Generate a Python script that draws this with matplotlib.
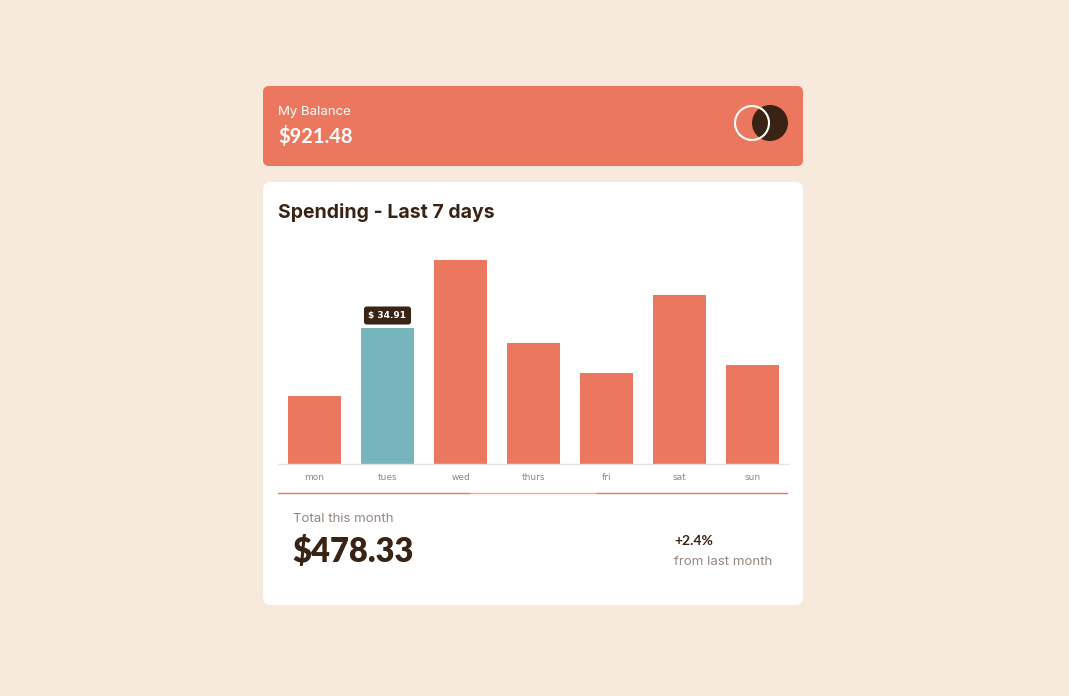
import matplotlib.pyplot as plt
from matplotlib.patches import FancyBboxPatch, Circle

# Data
days = ['mon', 'tues', 'wed', 'thurs', 'fri', 'sat', 'sun']
amounts = [17.45, 34.91, 52.36, 31.07, 23.39, 43.28, 25.48]
active_day = 'tues'
balance = '$921.48'
total_month = '$478.33'
change = '+2.4%'

# Colours
bg = '#F8E9DD'
coral = '#EC775F'
cyan = '#76B5BC'
dark = '#382314'
grey = '#93867F'

plt.rcParams['font.family'] = ['Inter', 'DejaVu Sans']
num_font = ['Lato', 'DejaVu Sans']

W, H = 1069, 696
fig = plt.figure(figsize=(W / 100, H / 100), dpi=100, facecolor=bg)

# Background axes in pixel coordinates
bgax = fig.add_axes([0, 0, 1, 1])
bgax.set_xlim(0, W)
bgax.set_ylim(H, 0)
bgax.axis('off')

# Balance card
bgax.add_patch(FancyBboxPatch((263, 86), 540, 80, boxstyle='round,pad=0,rounding_size=6',
                              fc=coral, ec='none'))
bgax.text(278, 112, 'My Balance', color='white', fontsize=9.5, va='center', ha='left')
bgax.text(278, 137, balance, color='white', fontsize=14.5, fontweight='bold', va='center',
          ha='left', family=num_font)
bgax.add_patch(Circle((770, 123), 18, fc=dark, ec='none'))
bgax.add_patch(Circle((752, 123), 17, fc='none', ec='white', lw=1.5))

# Spending card
bgax.add_patch(FancyBboxPatch((263, 182), 540, 423, boxstyle='round,pad=0,rounding_size=8',
                              fc='white', ec='none'))
bgax.text(278, 212, 'Spending - Last 7 days', color=dark, fontsize=14, fontweight='bold',
          va='center', ha='left')

# Separator under the chart
bgax.plot([278, 470], [492.5, 492.5], color=coral, lw=1)
bgax.plot([470, 597], [492.5, 492.5], color='#F4AE9C', lw=1)
bgax.plot([597, 787], [492.5, 492.5], color=coral, lw=1)

# Footer
bgax.text(293, 519, 'Total this month', color=grey, fontsize=9.5, va='center', ha='left')
bgax.text(292, 552, total_month, color=dark, fontsize=23.5, fontweight='heavy', va='center',
          ha='left', family=num_font)
bgax.text(674, 541, change, color=dark, fontsize=10, fontweight='bold', va='center',
          ha='left', family=num_font)
bgax.text(674, 562, 'from last month', color=grey, fontsize=9.5, va='center', ha='left')

# Bar chart axes: x 278..789 px, y 240..464 px
ax = fig.add_axes([278 / W, 1 - 464 / H, 511 / W, 224 / H])
ax.set_facecolor('none')
colors = [cyan if d == active_day else coral for d in days]
ax.bar(range(len(days)), amounts, width=0.72, color=colors)
ax.set_xlim(-0.5, 6.5)
ax.set_ylim(0, 57.5)
ax.set_yticks([])
ax.set_xticks(range(len(days)))
ax.set_xticklabels(days, color='#8a8a8a', fontsize=6.5, family='DejaVu Sans')
ax.tick_params(axis='x', length=0, pad=6.5)
for s in ['top', 'right', 'left']:
    ax.spines[s].set_visible(False)
ax.spines['bottom'].set_color('#E6E6E6')
ax.spines['bottom'].set_linewidth(1)

# Tooltip on the active bar
i = days.index(active_day)
ax.annotate(f'$ {amounts[i]:.2f}', xy=(i, amounts[i]), xytext=(0, 9), textcoords='offset points',
            ha='center', va='center', color='white', fontsize=6.5, fontweight='bold',
            family='DejaVu Sans',
            bbox=dict(boxstyle='round,pad=0.5,rounding_size=0.3', fc=dark, ec='none'))

fig.savefig('out.png', dpi=100, facecolor=bg)
